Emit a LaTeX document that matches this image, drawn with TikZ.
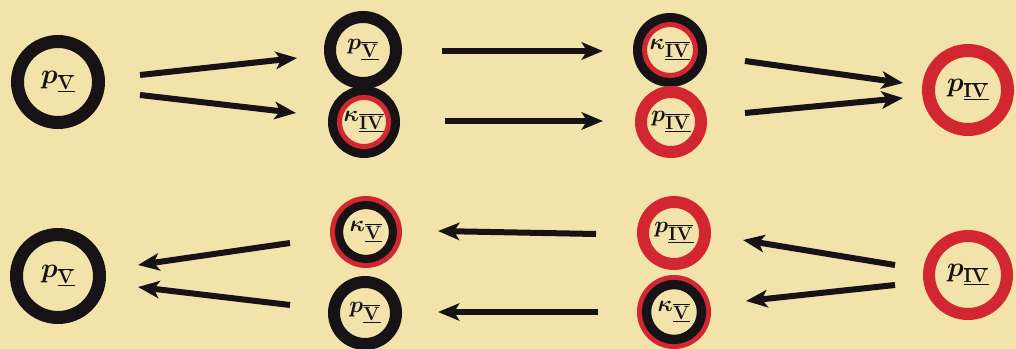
\documentclass[tikz,border=0pt]{standalone}
\usetikzlibrary{arrows.meta}
\definecolor{paper}{RGB}{241,227,170}
\definecolor{ink}{RGB}{22,18,22}
\definecolor{rd}{RGB}{210,38,48}
\tikzset{
  ring/.style={circle, inner sep=0pt, font=\fontsize{19}{19}\selectfont\boldmath, text=ink},
  arr/.style={draw=ink, line width=4.5pt, -{Stealth[length=16pt,width=13pt,inset=4pt]}},
}
\newcommand{\lbl}[2]{$#1_{\underline{\overline{\mathrm{#2}}}}$}
\begin{document}
\begin{tikzpicture}[x=0.75pt,y=-0.75pt]
\fill[paper] (0,0) rectangle (1016,349);
\useasboundingbox (0,0) rectangle (1016,349);
% top row
\node[ring, draw=ink, line width=9.75pt, minimum size=60.75pt, font=\fontsize{22}{22}\selectfont\boldmath] (a1) at (58,82) {\lbl{p}{V}};
\node[ring, draw=ink, line width=9pt, minimum size=49.5pt] (b1) at (363,50) {\lbl{p}{V}};
\node[ring, draw=ink, line width=9.75pt, minimum size=44.25pt] (b2) at (364,122) {\lbl{\kappa}{IV}};
\draw[rd, line width=3.75pt] (b2.center) circle[radius=18.4pt];
\node[ring, draw=ink, line width=9.75pt, minimum size=45.75pt] (c1) at (670,50) {\lbl{\kappa}{IV}};
\draw[rd, line width=3.75pt] (c1.center) circle[radius=19.1pt];
\node[ring, draw=rd, line width=9pt, minimum size=45pt] (c2) at (671,122) {\lbl{p}{IV}};
\node[ring, draw=rd, line width=9.75pt, minimum size=59.25pt, font=\fontsize{22}{22}\selectfont\boldmath] (d1) at (968,90) {\lbl{p}{IV}};
% bottom row
\node[ring, draw=ink, line width=9.75pt, minimum size=62.25pt, font=\fontsize{22}{22}\selectfont\boldmath] (a2) at (58,276) {\lbl{p}{V}};
\node[ring, draw=rd, line width=9.75pt, minimum size=44.25pt] (b3) at (366,232) {\lbl{\kappa}{V}};
\draw[ink, line width=6pt] (b3.center) circle[radius=20.25pt];
\node[ring, draw=ink, line width=9pt, minimum size=46.5pt] (b4) at (365,313) {\lbl{p}{V}};
\node[ring, draw=rd, line width=9pt, minimum size=46.5pt] (c3) at (674,233) {\lbl{p}{IV}};
\node[ring, draw=rd, line width=9.75pt, minimum size=45.75pt] (c4) at (674,312) {\lbl{\kappa}{V}};
\draw[ink, line width=7pt] (c4.center) circle[radius=20.6pt];
\node[ring, draw=rd, line width=9pt, minimum size=58.5pt, font=\fontsize{22}{22}\selectfont\boldmath] (d2) at (968,275) {\lbl{p}{IV}};
% arrow end points
\coordinate (t1s) at (140,75);  \coordinate (t1e) at (297,58);
\coordinate (t2s) at (140,95);  \coordinate (t2e) at (296,113);
\coordinate (t3s) at (442,51);  \coordinate (t3e) at (603,51);
\coordinate (t4s) at (445,121); \coordinate (t4e) at (603,121);
\coordinate (t5s) at (745,61);  \coordinate (t5e) at (903,83);
\coordinate (t6s) at (745,113); \coordinate (t6e) at (903,98);
\coordinate (u1s) at (290,243); \coordinate (u1e) at (138,265);
\coordinate (u2s) at (290,305); \coordinate (u2e) at (138,287);
\coordinate (u3s) at (596,234); \coordinate (u3e) at (438,231);
\coordinate (u4s) at (598,312); \coordinate (u4e) at (438,312);
\coordinate (u5s) at (895,265); \coordinate (u5e) at (743,240);
\coordinate (u6s) at (895,285); \coordinate (u6e) at (746,301);
\foreach \n in {t1,t2,t3,t4,t5,t6,u1,u2,u3,u4,u5,u6}
  \draw[arr] (\n s) -- (\n e);
\end{tikzpicture}
\end{document}
